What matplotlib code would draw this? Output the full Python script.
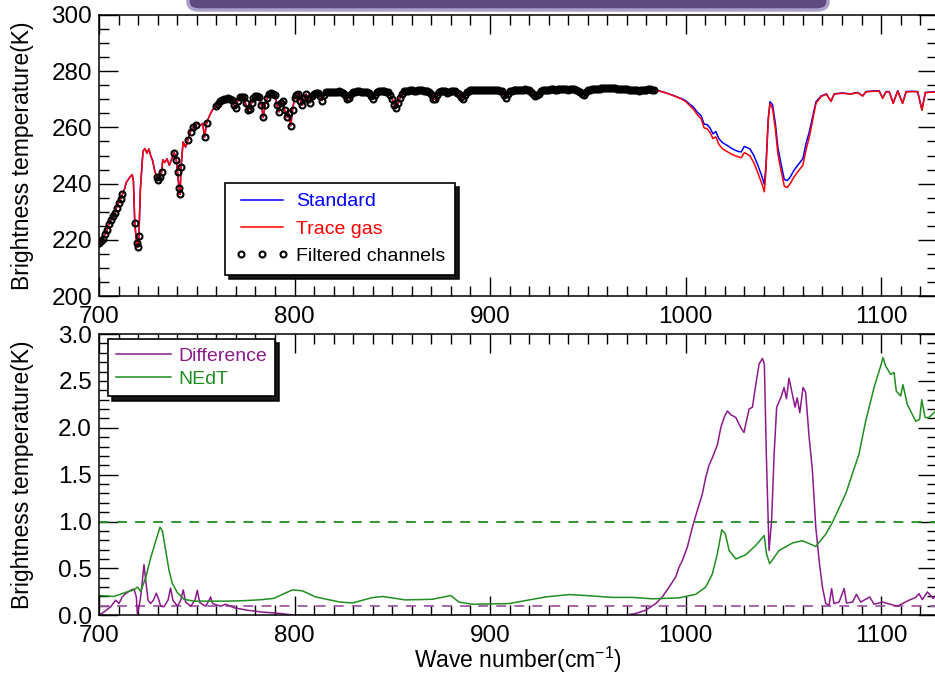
import numpy as np
import matplotlib
matplotlib.use("Agg")
import matplotlib.pyplot as plt
from matplotlib.patches import FancyBboxPatch
from matplotlib.ticker import MultipleLocator, FormatStrFormatter

plt.rcParams['font.family'] = ['Liberation Sans', 'DejaVu Sans']
plt.rcParams['mathtext.fontset'] = 'custom'
plt.rcParams['mathtext.rm'] = 'Liberation Sans'

# ---------------- top panel: brightness temperature (K) ----------------
# CO2 band edge, 700-758 cm-1
wn_a = [700, 701, 702, 703, 704, 705, 706, 707, 708, 709,
        710, 711, 712, 713, 714, 715, 716, 717, 717.6, 718.3,
        719.2, 719.7, 720.4, 721.2, 722.5, 723.5, 724.5, 725.5, 726.5, 727.5,
        728.5, 729.5, 730.3, 731.2, 732.0, 732.6, 733.6, 734.8, 736.0, 737.3,
        738.5, 739.5, 740.2, 740.9, 741.4, 742.0, 743.0, 744.3, 745.5, 746.8,
        748.2, 749.4, 750.6, 752.0, 753.0, 754.0, 755.0, 756.3, 758.0]
bt_a = [218.8, 219.5, 220.5, 222.0, 223.5, 225.5, 227.0, 228.5, 229.5, 231.5,
        233.0, 234.5, 236.3, 238.0, 240.5, 241.5, 242.5, 243.2, 241.0, 226.0,
        219.0, 217.4, 221.5, 238.5, 251.5, 252.5, 250.8, 252.3, 249.8, 248.0,
        244.5, 242.5, 241.2, 242.5, 244.0, 248.5, 247.5, 248.8, 246.5, 249.0,
        251.0, 248.5, 244.0, 238.5, 236.2, 246.0, 254.8, 253.0, 255.5, 258.5,
        260.0, 260.8, 261.4, 260.8, 261.4, 256.5, 261.4, 263.8, 266.2]

# window region, every 1 cm-1 from 760 to 984
wn_b = np.arange(760, 985, 1)
bt_b = [267.6, 268.4, 269.2, 269.6, 270.0, 270.2, 270.4, 270.1, 269.8, 268.0,   # 760
        267.0, 269.5, 270.8, 270.9, 270.6, 268.5, 266.0, 266.5, 268.6, 270.5,   # 770
        271.2, 271.3, 270.8, 268.0, 263.5, 268.0, 270.5, 271.8, 272.2, 272.0,   # 780
        271.5, 268.0, 265.5, 268.5, 269.5, 266.0, 263.5, 265.0, 260.5, 266.0,   # 790
        270.5, 271.5, 271.8, 269.5, 267.8, 270.5, 271.8, 270.0, 268.8, 271.0,   # 800
        272.0, 272.3, 272.2, 271.0, 269.5, 271.5, 272.4, 272.6, 272.6, 272.7,   # 810
        272.5, 272.6, 272.7, 272.8, 272.6, 272.3, 271.5, 270.0, 270.5, 272.0,   # 820
        272.6, 272.7, 272.8, 272.8, 272.7, 272.6, 272.6, 272.4, 272.2, 271.0,   # 830
        270.0, 271.5, 272.6, 272.8, 272.9, 272.9, 272.8, 272.6, 272.5, 271.5,   # 840
        270.0, 268.0, 267.0, 268.5, 270.5, 272.0, 272.8, 273.0, 273.0, 273.1,   # 850
        273.1, 273.0, 273.0, 273.1, 273.2, 273.1, 273.0, 272.9, 272.8, 272.5,   # 860
        272.0, 270.0, 270.0, 271.5, 272.6, 272.9, 273.0, 272.8, 272.2, 272.6,   # 870
        273.0, 272.9, 272.8, 272.3, 271.8, 270.8, 270.0, 271.5, 272.5, 273.0,   # 880
        273.2, 273.3, 273.3, 273.2, 273.2, 273.3, 273.4, 273.4, 273.3, 273.2,   # 890
        273.2, 273.3, 273.4, 273.4, 273.3, 273.0, 272.8, 271.5, 270.5, 271.8,   # 900
        272.8, 273.0, 273.2, 273.3, 273.4, 273.4, 273.3, 273.4, 273.5, 273.4,   # 910
        273.2, 272.5, 271.8, 271.3, 271.5, 272.0, 272.8, 273.1, 273.3, 273.4,   # 920
        273.4, 273.5, 273.5, 273.4, 273.4, 273.5, 273.6, 273.6, 273.5, 273.5,   # 930
        273.4, 273.5, 273.6, 273.5, 273.3, 273.0, 272.5, 271.8, 271.5, 272.4,   # 940
        273.2, 273.4, 273.5, 273.6, 273.6, 273.7, 273.7, 273.8, 273.8, 273.9,   # 950
        274.0, 274.0, 273.9, 273.9, 273.8, 273.7, 273.7, 273.6, 273.6, 273.5,   # 960
        273.5, 273.4, 273.4, 273.3, 273.2, 273.1, 273.0, 273.1, 273.2, 273.3,   # 970
        273.4, 273.5, 273.5, 273.4, 273.4]                                      # 980

# ozone band, 986-1128 cm-1 (standard and trace gas runs differ here)
wn_c = [986, 988, 990, 992, 994, 996, 998, 1000, 1002, 1004,
        1006, 1008, 1009.5, 1011, 1012.5, 1014, 1015.5, 1017, 1019, 1021,
        1023, 1025, 1027, 1028.5, 1030, 1031.5, 1033, 1035, 1037, 1039,
        1040.3, 1041.1, 1042.3, 1043.2, 1044.5, 1046, 1047.2, 1048.8, 1050.5, 1052,
        1053.5, 1055.5, 1058, 1060, 1061.6, 1063.3, 1065, 1066.7, 1069.3, 1072,
        1074.4, 1076, 1080, 1084.5, 1088, 1090.6, 1092.3, 1096, 1099, 1100.8,
        1102.5, 1104.2, 1106.2, 1108.5, 1111, 1112.8, 1116, 1118.7, 1120.9, 1122.6,
        1128]
trace_c = [273.0, 272.6, 272.2, 271.7, 271.2, 270.6, 270.0, 269.2, 267.8, 266.5,
           264.5, 263.0, 259.8, 259.5, 258.2, 256.0, 256.6, 254.0, 252.3, 251.5,
           250.7, 250.0, 249.5, 249.2, 251.0, 250.5, 249.8, 247.3, 243.8, 240.0,
           237.1, 244.8, 262.6, 268.5, 266.7, 259.0, 250.7, 244.8, 239.1, 238.6,
           240.0, 242.4, 244.8, 246.5, 251.9, 256.6, 262.6, 268.5, 270.9, 271.8,
           269.2, 271.8, 272.1, 271.8, 272.3, 271.1, 272.6, 272.8, 272.9, 270.3,
           272.6, 272.6, 268.5, 272.9, 268.5, 272.6, 272.7, 272.6, 266.1, 272.3,
           272.6]
standard_c = [273.05, 272.65, 272.25, 271.75, 271.25, 270.7, 270.2, 269.5, 268.3, 267.2,
              265.4, 264.1, 261.1, 261.0, 259.8, 257.7, 258.5, 256.0, 254.5, 253.7,
              252.8, 252.0, 251.4, 251.3, 253.2, 252.8, 252.3, 249.9, 246.5, 242.7,
              239.7, 246.3, 263.2, 269.1, 268.0, 261.0, 252.9, 247.1, 241.5, 241.1,
              242.3, 244.8, 247.1, 248.9, 254.2, 258.4, 263.8, 269.1, 271.1, 271.9,
              269.3, 271.9, 272.2, 271.9, 272.4, 271.2, 272.7, 272.9, 273.0, 270.4,
              272.7, 272.7, 268.6, 273.0, 268.6, 272.7, 272.8, 272.7, 266.2, 272.4,
              272.7]

# channels kept by the filter (wavenumber ranges)
filtered_ranges = [(700, 712.5), (718, 721), (729.5, 732.3), (738, 742),
                   (745.5, 750), (753.5, 755.5), (759, 984.5)]

# ---------------- bottom panel: difference and NEdT (K) ----------------
wn_nedt = [700, 707.7, 714.5, 717.9, 719.6, 721.3, 723.9, 726.4, 729, 731.2,
           732.4, 734.1, 735.8, 737.5, 740.1, 743.5, 748.6, 757.1, 765.6, 774.2,
           782.7, 789.5, 794.6, 798.9, 804, 810.8, 822.8, 829.6, 839.8, 844.9,
           856.8, 870.5, 879.9, 884.1, 891, 909.7, 928.5, 940.4, 948.9, 962.6,
           972.8, 983, 996.7, 1005.2, 1010.3, 1013.7, 1016.3, 1018.5, 1020.3, 1022.3,
           1025.7, 1030.8, 1035.9, 1040.2, 1041.4, 1043, 1047.8, 1054.6, 1059.7, 1066.6,
           1071.7, 1075.1, 1081.9, 1088.7, 1092.1, 1096.4, 1099.8, 1101, 1102.3, 1104.9,
           1106.6, 1107.8, 1110, 1111.2, 1113.4, 1117.7, 1119.7, 1120.8, 1122.5, 1124.5,
           1128]
nedt = [0.21, 0.20, 0.25, 0.27, 0.30, 0.255, 0.40, 0.61, 0.79, 0.94,
        0.90, 0.69, 0.48, 0.34, 0.24, 0.17, 0.15, 0.15, 0.15, 0.155,
        0.165, 0.18, 0.23, 0.27, 0.26, 0.195, 0.142, 0.13, 0.188, 0.20,
        0.163, 0.17, 0.21, 0.14, 0.117, 0.124, 0.195, 0.22, 0.21, 0.19,
        0.19, 0.175, 0.185, 0.223, 0.30, 0.44, 0.66, 0.91, 0.87, 0.69,
        0.60, 0.645, 0.745, 0.85, 0.655, 0.55, 0.69, 0.77, 0.795, 0.734,
        0.865, 0.99, 1.295, 1.72, 2.07, 2.43, 2.66, 2.75, 2.66, 2.57,
        2.59, 2.39, 2.34, 2.46, 2.25, 2.07, 2.09, 2.30, 2.11, 2.11,
        2.18]

wn_diff = [700, 702.6, 706, 708.5, 710.2, 711.9, 713.6, 716.2, 717.9, 719.1,
           719.6, 720.5, 721.3, 722.2, 723, 723.9, 725.1, 726.4, 727.8, 729.3,
           730.7, 731.5, 733.2, 735.3, 736.6, 737.8, 740.1, 741.8, 743.1, 744.3,
           746.9, 749.1, 750.3, 751.5, 754.6, 756.3, 757.1, 758, 762.2, 764.8,
           769, 775.9, 782.7, 792.9, 799.7, 969, 974.5, 979.6, 984.8, 988.1,
           991.6, 995, 996.7, 998.4, 1000.9, 1003.5, 1006, 1008.6, 1010.3, 1012,
           1013.7, 1016.3, 1018, 1019.7, 1021.4, 1023.1, 1025.7, 1028.3, 1029.9, 1030.8,
           1032.5, 1034.2, 1035.9, 1037.6, 1039.3, 1040.3, 1041.3, 1042.7, 1044, 1045.3,
           1046.6, 1048.7, 1050.4, 1051.6, 1052.9, 1054.6, 1056, 1057.1, 1058.4, 1060.1,
           1061.4, 1063.2, 1064.9, 1066.6, 1068.3, 1070, 1071.7, 1073.4, 1074.7, 1075.9,
           1078.5, 1081.1, 1082.3, 1085.4, 1087.4, 1089.6, 1094.2, 1096.4, 1100.7, 1108.3,
           1110.9, 1114.3, 1117.7, 1119.4, 1121.1, 1123.7, 1126.6, 1128]
difference = [0.0, 0.035, 0.09, 0.16, 0.125, 0.195, 0.23, 0.266, 0.28, 0.195,
              0.018, 0.09, 0.195, 0.37, 0.54, 0.37, 0.16, 0.125, 0.16, 0.235,
              0.16, 0.096, 0.09, 0.16, 0.29, 0.16, 0.096, 0.16, 0.27, 0.14,
              0.096, 0.16, 0.266, 0.135, 0.096, 0.16, 0.195, 0.125, 0.096, 0.117,
              0.08, 0.053, 0.035, 0.018, 0.0, 0.0, 0.018, 0.053, 0.124, 0.195,
              0.30, 0.41, 0.514, 0.585, 0.727, 0.94, 1.117, 1.295, 1.47, 1.60,
              1.68, 1.82, 2.0, 2.11, 2.18, 2.14, 2.11, 2.0, 1.95, 2.04,
              2.2, 2.22, 2.46, 2.68, 2.74, 2.68, 1.72, 0.69, 1.01, 1.72,
              2.22, 2.32, 2.43, 2.31, 2.53, 2.36, 2.22, 2.32, 2.16, 2.43,
              2.38, 1.9, 1.54, 0.94, 0.585, 0.30, 0.124, 0.107, 0.284, 0.124,
              0.14, 0.284, 0.13, 0.14, 0.223, 0.14, 0.195, 0.117, 0.14, 0.096,
              0.124, 0.16, 0.19, 0.23, 0.167, 0.248, 0.18, 0.2]

nedt_ref = 1.0     # green dashed level
diff_ref = 0.1     # purple dashed level

PURPLE = '#8c1a8c'
GREEN = '#1f8f1f'

wn_top = np.concatenate([wn_a, wn_b, wn_c])
trace_gas = np.concatenate([bt_a, bt_b, trace_c])
standard = np.concatenate([bt_a, bt_b, standard_c])
keep = np.zeros(len(wn_top), dtype=bool)
for lo, hi in filtered_ranges:
    keep |= (wn_top >= lo) & (wn_top <= hi)

fig = plt.figure(figsize=(9.35, 6.75), dpi=100)
ax1 = fig.add_axes([99/935, (675 - 296.3)/675, 838/935, 281.6/675])
ax2 = fig.add_axes([99/935, (675 - 615.2)/675, 838/935, 281.1/675])

# cut-off title banner at the very top
banner = FancyBboxPatch((188/935, 1 - 10/675), 640/935, 0.1,
                        boxstyle='round,pad=0,rounding_size=0.012',
                        transform=fig.transFigure, facecolor='#5e4a7e',
                        edgecolor='#ab9fcb', linewidth=2.5, clip_on=False)
fig.add_artist(banner)

shadow_props = {'ox': 3, 'oy': -3, 'facecolor': 'black',
                'edgecolor': 'black', 'alpha': 0.9}

# top panel
ax1.plot(wn_top, standard, color='#0000ff', lw=1.1, label='Standard')
ax1.plot(wn_top, trace_gas, color='#ff0000', lw=1.1, label='Trace gas')
ax1.plot(wn_top[keep], trace_gas[keep], 'o', color='k', ms=4.3, mfc='none',
         mec='k', mew=1.5, label='Filtered channels')
ax1.set_ylim(200, 300)
ax1.yaxis.set_major_locator(MultipleLocator(20))
ax1.yaxis.set_minor_locator(MultipleLocator(5))
ax1.set_ylabel('Brightness temperature(K)', fontsize=16.5)

leg1 = ax1.legend(loc='upper left', bbox_to_anchor=(0.1504, 0.402), borderaxespad=0,
                  fontsize=14, numpoints=3, handlelength=2.8, handletextpad=0.35,
                  labelspacing=0.5, borderpad=0.5, fancybox=False, framealpha=1,
                  edgecolor='k', labelcolor='linecolor', shadow=shadow_props)
leg1.get_frame().set_linewidth(1.2)

# bottom panel
ax2.axhline(diff_ref, color='#a05aa8', lw=1.3, ls=(0, (5.5, 4.5)))
ax2.axhline(nedt_ref, color=GREEN, lw=1.3, ls=(0, (5.5, 4.5)))
ax2.plot(wn_diff, difference, color=PURPLE, lw=1.1, label='Difference')
ax2.plot(wn_nedt, nedt, color=GREEN, lw=1.1, label='NEdT')
ax2.set_ylim(0, 3.0)
ax2.yaxis.set_major_locator(MultipleLocator(0.5))
ax2.yaxis.set_minor_locator(MultipleLocator(0.1))
ax2.yaxis.set_major_formatter(FormatStrFormatter('%.1f'))
ax2.set_ylabel('Brightness temperature(K)', fontsize=16.5)
ax2.set_xlabel('Wave number(cm$^{-1}$)', fontsize=16.5)

leg2 = ax2.legend(loc='upper left', bbox_to_anchor=(0.0107, 0.9826), borderaxespad=0,
                  fontsize=14, handlelength=2.8, handletextpad=0.4,
                  labelspacing=0.3, borderpad=0.42, fancybox=False, framealpha=1,
                  edgecolor='k', labelcolor='linecolor', shadow=shadow_props)
leg2.get_frame().set_linewidth(1.2)

for ax in (ax1, ax2):
    ax.set_xlim(700, 1128.6)
    ax.xaxis.set_major_locator(MultipleLocator(100))
    ax.xaxis.set_minor_locator(MultipleLocator(10))
    ax.tick_params(which='both', direction='in', top=True, right=True,
                   width=1.0, labelsize=17.5)
    ax.tick_params(which='major', length=14)
    ax.tick_params(which='minor', length=7)
    ax.tick_params(axis='x', which='major', pad=7)
    ax.tick_params(axis='y', which='major', pad=5)
    for s in ax.spines.values():
        s.set_linewidth(1.1)
    ax.yaxis.set_label_coords(-0.077, 0.5)

ax2.xaxis.set_label_coords(0.5, -0.105)

fig.savefig('out.png', dpi=100)
